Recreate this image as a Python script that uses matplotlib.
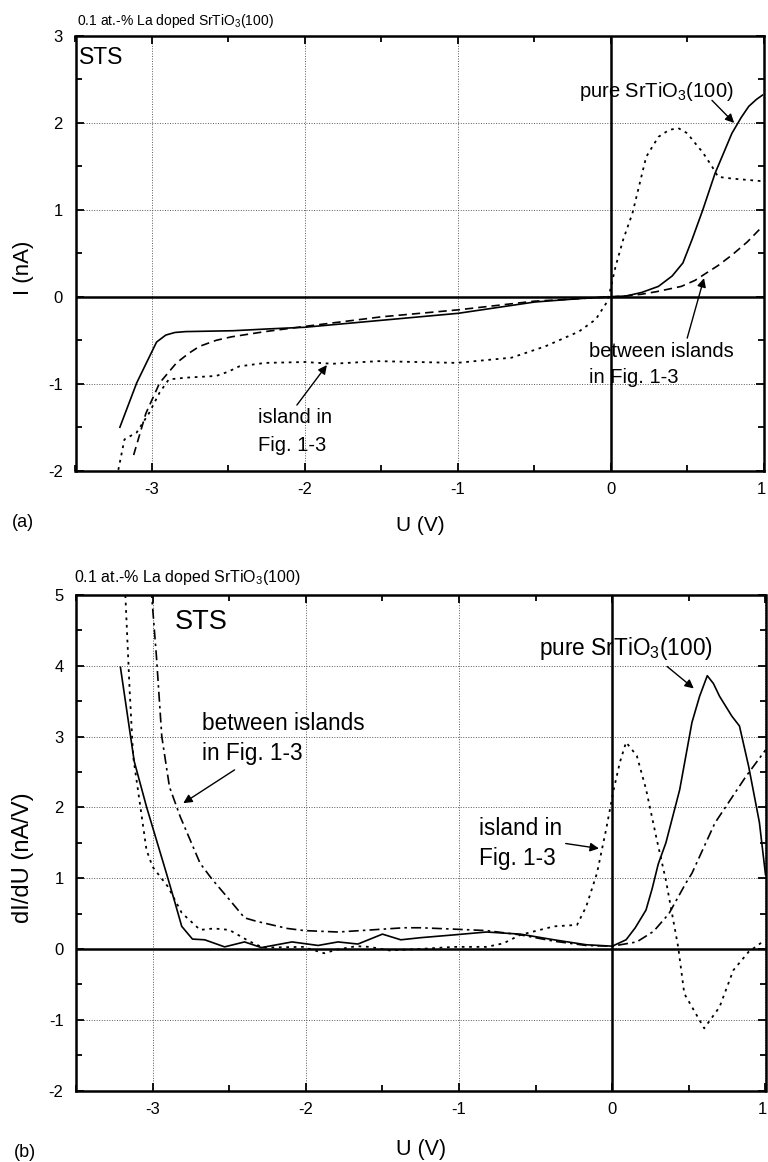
import matplotlib
matplotlib.use("Agg")
import matplotlib.pyplot as plt
from matplotlib.ticker import MultipleLocator
from matplotlib.transforms import ScaledTranslation

plt.rcParams['font.family'] = ['Liberation Sans', 'DejaVu Sans']
plt.rcParams['mathtext.fontset'] = 'custom'
plt.rcParams['mathtext.rm'] = 'Liberation Sans'
plt.rcParams['mathtext.it'] = 'Liberation Sans'
plt.rcParams['mathtext.bf'] = 'Liberation Sans'
plt.rcParams['mathtext.default'] = 'rm'

# ---------------- data: panel (a) I-V ----------------
iv_pure_U = [-3.21, -3.10, -3.02, -2.97, -2.91, -2.85, -2.78, -2.47, -2.25, -2.00,
             -1.50, -1.00, -0.50, -0.20, 0.00, 0.10, 0.20, 0.31, 0.40, 0.47, 0.53,
             0.60, 0.68, 0.79, 0.85, 0.90, 0.95, 0.99]
iv_pure_I = [-1.50, -0.99, -0.70, -0.52, -0.44, -0.41, -0.40, -0.39, -0.37, -0.35,
             -0.27, -0.19, -0.06, -0.02, 0.00, 0.01, 0.05, 0.12, 0.24, 0.39, 0.66,
             1.00, 1.42, 1.88, 2.06, 2.19, 2.27, 2.32]

iv_between_U = [-3.12, -3.04, -2.95, -2.84, -2.76, -2.69, -2.58, -2.48, -2.26, -2.00,
                -1.50, -1.00, -0.50, 0.00, 0.10, 0.20, 0.30, 0.46, 0.55, 0.62, 0.70,
                0.79, 0.89, 0.99]
iv_between_I = [-1.82, -1.34, -0.99, -0.76, -0.65, -0.57, -0.50, -0.46, -0.40, -0.34,
                -0.23, -0.15, -0.05, 0.00, 0.01, 0.03, 0.06, 0.12, 0.19, 0.27, 0.36,
                0.48, 0.63, 0.81]

iv_island_U = [-3.22, -3.18, -3.10, -3.02, -2.95, -2.89, -2.78, -2.58, -2.50, -2.43,
               -2.26, -2.00, -1.82, -1.52, -1.01, -0.65, -0.43, -0.21, -0.10, -0.03,
               -0.01, 0.03, 0.08, 0.14, 0.23, 0.31, 0.38, 0.44, 0.50, 0.53, 0.60,
               0.66, 0.70, 0.79, 0.99]
iv_island_I = [-1.99, -1.64, -1.56, -1.34, -1.10, -0.95, -0.93, -0.91, -0.86, -0.80,
               -0.76, -0.75, -0.77, -0.74, -0.76, -0.70, -0.57, -0.40, -0.26, -0.07,
               0.04, 0.35, 0.66, 0.96, 1.61, 1.84, 1.92, 1.94, 1.88, 1.81, 1.66,
               1.50, 1.38, 1.36, 1.33]

# ---------------- data: panel (b) dI/dU ----------------
di_pure_U = [-3.21, -3.12, -3.04, -2.91, -2.86, -2.81, -2.74, -2.66, -2.53, -2.40,
             -2.29, -2.09, -1.92, -1.79, -1.66, -1.50, -1.38, -1.25, -1.03, -0.82,
             -0.60, -0.38, -0.17, 0.00, 0.09, 0.15, 0.22, 0.26, 0.30, 0.35, 0.44,
             0.52, 0.57, 0.62, 0.66, 0.70, 0.78, 0.83, 0.89, 0.96, 1.00]
di_pure_V = [3.98, 2.65, 2.01, 1.07, 0.70, 0.32, 0.14, 0.13, 0.03, 0.10,
             0.02, 0.10, 0.05, 0.10, 0.07, 0.21, 0.13, 0.16, 0.20, 0.24,
             0.21, 0.13, 0.06, 0.04, 0.13, 0.30, 0.55, 0.85, 1.20, 1.50, 2.25,
             3.20, 3.57, 3.86, 3.75, 3.57, 3.29, 3.15, 2.58, 1.79, 1.05]

di_between_U = [-3.01, -2.975, -2.94, -2.89, -2.82, -2.69, -2.61, -2.50, -2.40, -2.32,
                -2.22, -2.12, -2.01, -1.79, -1.57, -1.36, -1.25, -1.03, -0.82, -0.60,
                -0.38, -0.17, 0.00, 0.16, 0.27, 0.37, 0.48, 0.52, 0.67, 0.87, 1.00]
di_between_V = [5.10, 4.13, 3.00, 2.29, 1.87, 1.21, 0.98, 0.70, 0.44, 0.39,
                0.34, 0.29, 0.26, 0.24, 0.27, 0.30, 0.30, 0.28, 0.26, 0.20,
                0.11, 0.05, 0.04, 0.10, 0.25, 0.50, 0.93, 1.07, 1.78, 2.43, 2.81]

di_island_U = [-3.18, -3.15, -3.127, -3.08, -3.04, -3.00, -2.90, -2.81, -2.69, -2.60,
               -2.50, -2.37, -2.28, -2.02, -1.88, -1.80, -1.67, -1.585, -1.455, -1.26,
               -1.03, -0.82, -0.71, -0.60, -0.38, -0.23, -0.17, -0.10, -0.04, 0.01,
               0.05, 0.09, 0.16, 0.22, 0.29, 0.35, 0.43, 0.47, 0.60, 0.70, 0.79,
               0.89, 0.98]
di_island_V = [5.10, 3.66, 2.72, 2.01, 1.40, 1.16, 0.88, 0.51, 0.27, 0.29,
               0.27, 0.11, 0.02, 0.03, -0.06, -0.01, 0.04, 0.03, -0.02, 0.00,
               0.03, 0.03, 0.08, 0.20, 0.32, 0.34, 0.60, 1.07, 1.69, 2.26,
               2.64, 2.92, 2.73, 2.26, 1.55, 0.97, 0.03, -0.63, -1.12, -0.82, -0.30,
               -0.04, 0.10]

title_text = '0.1 at.-% La doped SrTiO$_3$(100)'
label_pure = 'pure SrTiO$_3$(100)'
label_between = ['between islands', 'in Fig. 1-3']
label_island = ['island in', 'Fig. 1-3']
x_ticks = [-3, -2, -1, 0, 1]

W, H = 768, 1162
fig = plt.figure(figsize=(W / 100, H / 100), dpi=100)


def fx(x):
    return x / W


def fy(y):
    return 1 - y / H


def style_axes(ax, ylim, yticks):
    ax.set_xlim(-3.5, 1)
    ax.set_ylim(*ylim)
    ax.xaxis.set_minor_locator(MultipleLocator(0.5))
    ax.yaxis.set_minor_locator(MultipleLocator(0.5))
    ax.set_xticks(x_ticks)
    ax.set_xticklabels([str(t) for t in x_ticks])
    ax.set_yticks(yticks)
    ax.set_yticklabels([str(t) for t in yticks])
    ax.tick_params(which='both', direction='in', top=True, right=True,
                   labelsize=12, width=1.3, colors='k')
    ax.tick_params(axis='y', which='major', length=6, pad=9)
    ax.tick_params(axis='x', which='major', length=6, pad=8)
    ax.tick_params(which='minor', length=4)
    for s in ax.spines.values():
        s.set_linewidth(1.8)
    ax.grid(True, which='major', linestyle=(0, (1, 1.6)), linewidth=0.7, color='0.35')
    ax.axhline(0, color='k', lw=1.8, zorder=2)
    ax.axvline(0, color='k', lw=1.8, zorder=2)
    # keep the last x tick label inside the figure
    last = ax.get_xticklabels()[-1]
    last.set_transform(last.get_transform() + ScaledTranslation(-3 / 100, 0, fig.dpi_scale_trans))


arrow_kw = dict(arrowstyle='-|>', color='k', lw=1.0, mutation_scale=13,
                shrinkA=0, shrinkB=0)

# ---------------- panel (a) ----------------
ax1 = fig.add_axes([fx(75.5), fy(470.7), (764 - 75.5) / W, (470.7 - 36) / H])
style_axes(ax1, (-2, 3), [-2, -1, 0, 1, 2, 3])
ax1.plot(iv_pure_U, iv_pure_I, color='k', lw=1.2, ls='-', zorder=3)
ax1.plot(iv_between_U, iv_between_I, color='k', lw=1.2, ls=(0, (5, 3)), zorder=3)
ax1.plot(iv_island_U, iv_island_I, color='k', lw=1.3, ls=(0, (1.5, 2.6)), zorder=3)

ax1.text(-3.474, 2.68, 'STS', fontsize=16.5, ha='left', va='baseline')
ax1.text(-0.21, 2.30, label_pure, fontsize=14.5, ha='left', va='baseline')
ax1.annotate('', xy=(0.805, 2.0), xytext=(0.66, 2.26), arrowprops=arrow_kw)
ax1.text(-0.147, -0.69, label_between[0], fontsize=14.5, ha='left', va='baseline')
ax1.text(-0.147, -0.99, label_between[1], fontsize=14.5, ha='left', va='baseline')
ax1.annotate('', xy=(0.608, 0.215), xytext=(0.498, -0.475), arrowprops=arrow_kw)
ax1.text(-2.307, -1.455, label_island[0], fontsize=14.5, ha='left', va='baseline')
ax1.text(-2.307, -1.77, label_island[1], fontsize=14.5, ha='left', va='baseline')
ax1.annotate('', xy=(-1.857, -0.785), xytext=(-2.053, -1.245), arrowprops=arrow_kw)

fig.text(fx(76.7), fy(25), title_text, fontsize=10, ha='left', va='baseline')
fig.text(fx(12), fy(527), '(a)', fontsize=13, ha='left', va='baseline')
fig.text(fx(420), fy(531), 'U (V)', fontsize=15, ha='center', va='baseline')
fig.text(fx(23), fy(268), 'I (nA)', fontsize=16, ha='center', va='center', rotation=90)

# ---------------- panel (b) ----------------
ax2 = fig.add_axes([fx(76), fy(1090.6), (765.5 - 76) / W, (1090.6 - 595) / H])
style_axes(ax2, (-2, 5), [-2, -1, 0, 1, 2, 3, 4, 5])
ax2.plot(di_pure_U, di_pure_V, color='k', lw=1.2, ls='-', zorder=3)
ax2.plot(di_between_U, di_between_V, color='k', lw=1.2, ls=(0, (6, 2.5, 1.5, 2.5)), zorder=3)
ax2.plot(di_island_U, di_island_V, color='k', lw=1.3, ls=(0, (1.5, 2.6)), zorder=3)

ax2.text(-2.857, 4.52, 'STS', fontsize=19.5, ha='left', va='baseline')
ax2.text(-0.478, 4.15, label_pure, fontsize=16.3, ha='left', va='baseline')
ax2.annotate('', xy=(0.532, 3.68), xytext=(0.358, 3.99), arrowprops=arrow_kw)
ax2.text(-2.675, 3.10, label_between[0], fontsize=16.3, ha='left', va='baseline')
ax2.text(-2.675, 2.67, label_between[1], fontsize=16.3, ha='left', va='baseline')
ax2.annotate('', xy=(-2.80, 2.06), xytext=(-2.465, 2.53), arrowprops=arrow_kw)
ax2.text(-0.869, 1.61, label_island[0], fontsize=16.3, ha='left', va='baseline')
ax2.text(-0.869, 1.19, label_island[1], fontsize=16.3, ha='left', va='baseline')
ax2.annotate('', xy=(-0.087, 1.42), xytext=(-0.304, 1.49), arrowprops=arrow_kw)

fig.text(fx(74), fy(581.7), title_text, fontsize=11.5, ha='left', va='baseline')
fig.text(fx(14), fy(1157), '(b)', fontsize=13, ha='left', va='baseline')
fig.text(fx(421), fy(1155), 'U (V)', fontsize=15.5, ha='center', va='baseline')
fig.text(fx(23), fy(858), 'dI/dU (nA/V)', fontsize=17, ha='center', va='center', rotation=90)

fig.savefig('out.png', dpi=100)
